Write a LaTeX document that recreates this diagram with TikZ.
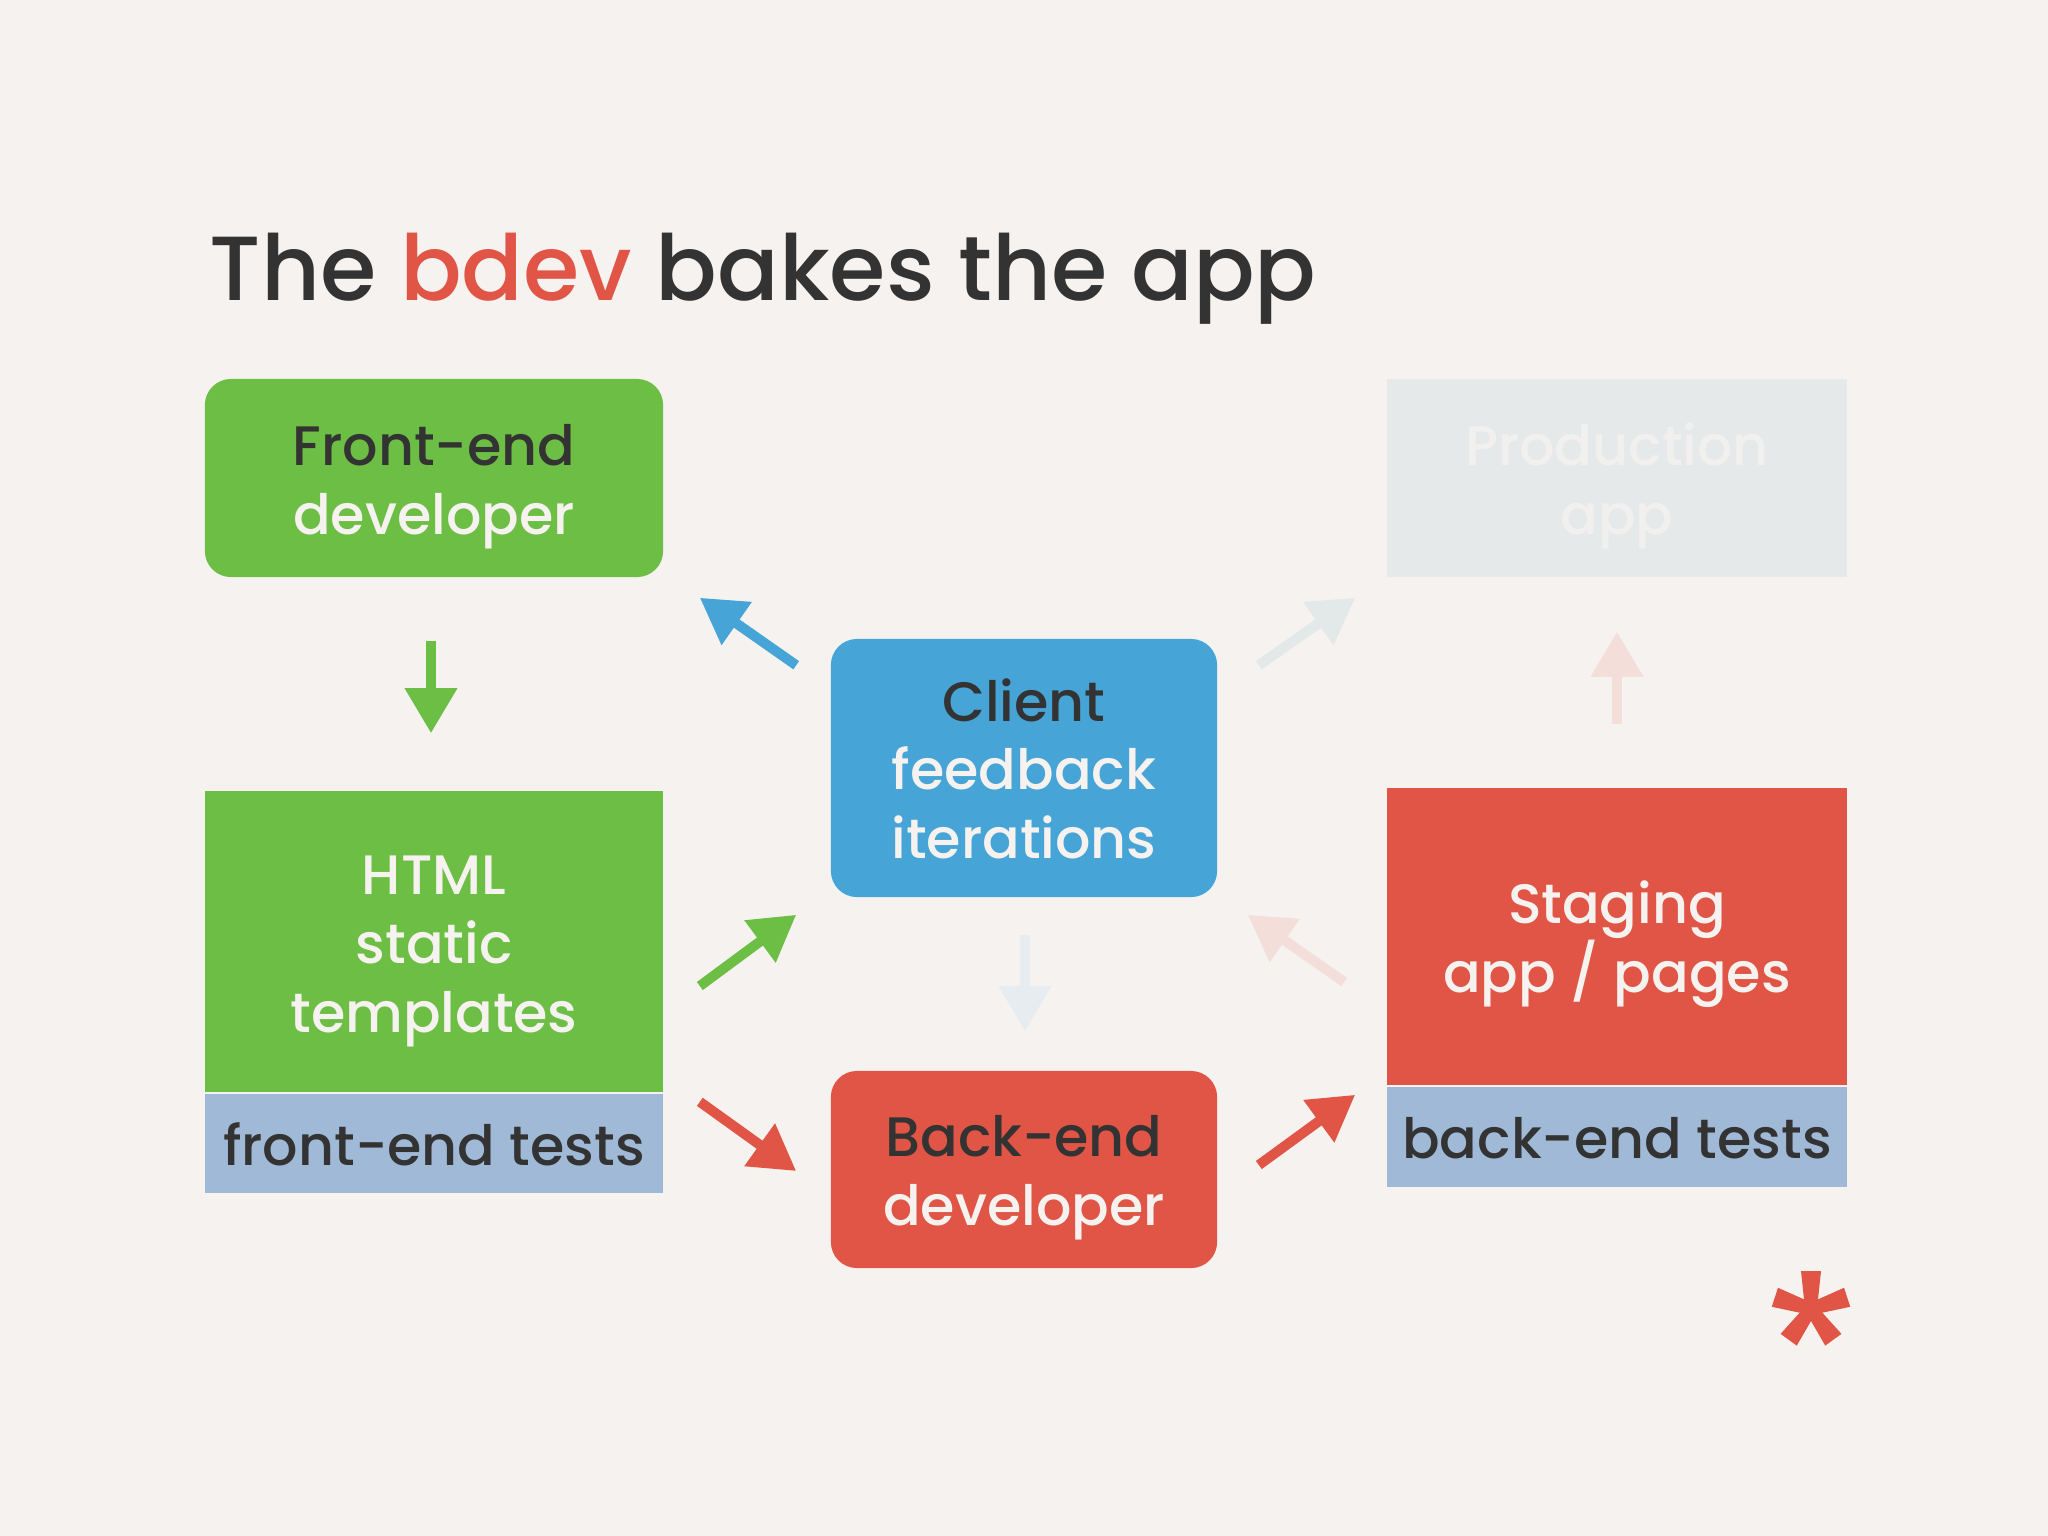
\documentclass[tikz,border=0pt]{standalone}
\usepackage{fontspec}
\setmainfont{Poppins}[UprightFont=* Medium]
\usepackage{xcolor}
\usetikzlibrary{arrows.meta,positioning,calc}
\definecolor{paper}{HTML}{F6F2EF}
\definecolor{ink}{HTML}{333333}
\definecolor{offwhite}{HTML}{F6F2EF}
\definecolor{leaf}{HTML}{6DBE45}
\definecolor{sky}{HTML}{47A4D6}
\definecolor{bdevred}{HTML}{E05545}
\definecolor{testblue}{HTML}{A0B9D6}
\definecolor{mist}{HTML}{E6E9E9}
\definecolor{misttext}{HTML}{F1F0EE}
\definecolor{fadedred}{HTML}{F3DEDA}
\definecolor{fadedgray}{HTML}{E3E8E8}
\definecolor{fadedsky}{HTML}{E6ECEF}
\newcommand{\boxfont}{\fontsize{15.8}{19.6}\selectfont}
\newcommand{\titlefont}{\fontsize{25.9}{30}\selectfont}
% struts so every box centres on its baselines
\newcommand{\upstrut}{\rule{0pt}{16.5pt}}
\newcommand{\downstrut}{\rule[-4pt]{0pt}{4pt}}

\begin{document}
\begin{tikzpicture}[x=0.01cm, y=-0.01cm,
    card/.style={rectangle, rounded corners=0.26cm, inner sep=0pt, align=center, font=\boxfont, text=offwhite},
    block/.style={rectangle, inner sep=0pt, align=center, font=\boxfont, text=offwhite},
    testbar/.style={rectangle, inner sep=0pt, fill=testblue, minimum width=4.58cm, minimum height=0.99cm, font=\boxfont, text=ink},
    arrow/.style={-{Triangle[width=0.5cm, length=0.45cm]}, line width=0.1cm}
]
\fill[paper] (0,0) rectangle (2048,1536);
\useasboundingbox (0,0) rectangle (2048,1536);

\node[anchor=base west, inner sep=0pt, font=\titlefont, text=ink] (title) at (209,300) {The \textcolor{bdevred}{bdev} bakes the app};

% left column
\node[card, fill=leaf, minimum width=4.58cm, minimum height=1.98cm] (fed) at (434,478) {\upstrut\textcolor{ink}{Front-end}\\developer\downstrut};
\node[block, fill=leaf, minimum width=4.58cm, minimum height=3.01cm] (html) at (434,941.5) {\upstrut HTML\\static\\templates\downstrut};
\node[testbar, below=0pt of html] (fetests) {\upstrut front-end tests\downstrut};

% middle column
\node[card, fill=sky, minimum width=3.86cm, minimum height=2.58cm] (client) at (1024,768) {\upstrut\textcolor{ink}{Client}\\feedback\\iterations\downstrut};
\node[card, fill=bdevred, minimum width=3.86cm, minimum height=1.97cm] (bed) at (1024,1169.5) {\upstrut\textcolor{ink}{Back-end}\\developer\downstrut};

% right column
\node[block, fill=mist, text=misttext, minimum width=4.6cm, minimum height=1.98cm] (prod) at (1617,478) {\upstrut Production\\app\downstrut};
\node[block, fill=bdevred, minimum width=4.6cm, minimum height=2.97cm] (staging) at (1617,936.5) {\upstrut Staging\\app / pages\downstrut};
\node[testbar, minimum width=4.6cm, minimum height=1.0cm, below=0pt of staging] (betests) {\upstrut back-end tests\downstrut};

% arrows
\draw[arrow, leaf] ($(fed.south)+(-3,63)$) -- ($(html.north)+(-3,-57)$);
\draw[arrow, sky] ($(client.north west)+(-34,27)$) -- ($(fed.south east)+(36,20)$);
\draw[arrow, leaf] ($(html.east)+(36,44.5)$) -- ($(client.south west)+(-34,17)$);
\draw[arrow, bdevred] ($(fetests.north east)+(36,9)$) -- ($(bed.west)+(-34,1.5)$);
\draw[arrow, bdevred] ($(bed.east)+(41,-4.5)$) -- ($(betests.north west)+(-31,9)$);
\draw[arrow, fadedred] ($(staging.west)+(-42,45.5)$) -- ($(client.south east)+(30,17)$);
\draw[arrow, fadedsky] ($(client.south)+(1,37)$) -- ($(bed.north)+(1,-39)$);
\draw[arrow, fadedgray] ($(client.north east)+(41,27)$) -- ($(prod.south west)+(-31,20)$);
\draw[arrow, fadedred] ($(staging.north)+(0,-63)$) -- ($(prod.south)+(0,54)$);

% asterisk
\coordinate (star) at (1811,1309);
\foreach \a in {270,342,54,126,198}
  \fill[bdevred] ($(star)+(\a+90:6)$) -- ($(star)+(\a-90:6)$) -- ($(star)+(\a:38)+(\a-90:10)$) -- ($(star)+(\a:38)+(\a+90:10)$) -- cycle;
\end{tikzpicture}
\end{document}
